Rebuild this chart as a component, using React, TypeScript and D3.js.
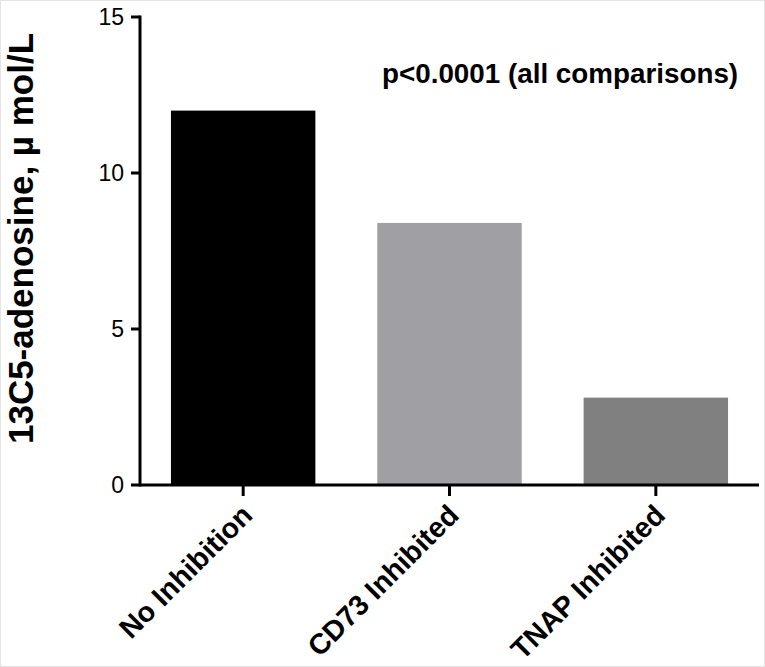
import React, { useEffect, useRef } from "react";
import * as d3 from "d3";

const categories = ["No Inhibition", "CD73 Inhibited", "TNAP Inhibited"];
const values = [12.0, 8.4, 2.8];
const barColors = ["#000000", "#a0a0a4", "#808080"];
const yTicks = [0, 5, 10, 15];
const yLabel = "13C5-adenosine, \u00b5 mol/L";
const annotation = "p<0.0001 (all comparisons)";

const W = 765;
const H = 667;

export default function App() {
  const ref = useRef<SVGSVGElement>(null);

  useEffect(() => {
    const svg = d3.select(ref.current);
    svg.selectAll("*").remove();
    const font = "'Liberation Sans', Arial, sans-serif";

    const x = d3
      .scaleBand<string>()
      .domain(categories)
      .range([140, 759])
      .paddingInner(0.3)
      .paddingOuter(0.15);
    const y = d3.scaleLinear().domain([0, 15]).range([485, 17]);

    svg
      .append("rect")
      .attr("x", 0.5)
      .attr("y", 0.5)
      .attr("width", W - 1)
      .attr("height", H - 1)
      .attr("fill", "#fff")
      .attr("stroke", "#e4e4e4");

    svg
      .append("g")
      .selectAll("rect")
      .data(values)
      .join("rect")
      .attr("x", (_, i) => x(categories[i])!)
      .attr("y", (d) => y(d))
      .attr("width", x.bandwidth())
      .attr("height", (d) => y(0) - y(d))
      .attr("fill", (_, i) => barColors[i]);

    // y axis
    const ya = svg.append("g").attr("font-family", font);
    ya.append("line")
      .attr("x1", 140)
      .attr("x2", 140)
      .attr("y1", y(15) - 1.5)
      .attr("y2", y(0) + 1.5)
      .attr("stroke", "#000")
      .attr("stroke-width", 3);
    yTicks.forEach((t) => {
      ya.append("line")
        .attr("x1", 131)
        .attr("x2", 140)
        .attr("y1", y(t))
        .attr("y2", y(t))
        .attr("stroke", "#000")
        .attr("stroke-width", 3);
      ya.append("text")
        .attr("x", 124)
        .attr("y", y(t))
        .attr("dy", "0.36em")
        .attr("text-anchor", "end")
        .attr("font-size", 23)
        .attr("fill", "#000")
        .text(String(t));
    });

    // x axis
    const xa = svg.append("g").attr("font-family", font);
    xa.append("line")
      .attr("x1", 140)
      .attr("x2", 759)
      .attr("y1", y(0))
      .attr("y2", y(0))
      .attr("stroke", "#000")
      .attr("stroke-width", 3);
    categories.forEach((c) => {
      const cx = x(c)! + x.bandwidth() / 2;
      xa.append("line")
        .attr("x1", cx)
        .attr("x2", cx)
        .attr("y1", y(0))
        .attr("y2", y(0) + 11)
        .attr("stroke", "#000")
        .attr("stroke-width", 3);
      xa.append("text")
        .attr("transform", `translate(${cx + 11},${y(0) + 32}) rotate(-45)`)
        .attr("text-anchor", "end")
        .attr("font-size", 28.5)
        .attr("font-weight", "bold")
        .attr("fill", "#000")
        .text(c);
    });

    // y label
    svg
      .append("text")
      .attr("transform", `translate(33,${(35 + 442) / 2}) rotate(-90)`)
      .attr("text-anchor", "middle")
      .attr("font-family", font)
      .attr("font-size", 35)
      .attr("font-weight", "bold")
      .attr("fill", "#000")
      .text(yLabel);

    // annotation
    svg
      .append("text")
      .attr("x", 382)
      .attr("y", 83)
      .attr("font-family", font)
      .attr("font-size", 27.8)
      .attr("font-weight", "bold")
      .attr("fill", "#000")
      .text(annotation);
  }, []);

  return (
    <div style={{ position: "absolute", left: 0, top: 0 }}>
      <svg ref={ref} width={W} height={H} style={{ display: "block" }} />
    </div>
  );
}
